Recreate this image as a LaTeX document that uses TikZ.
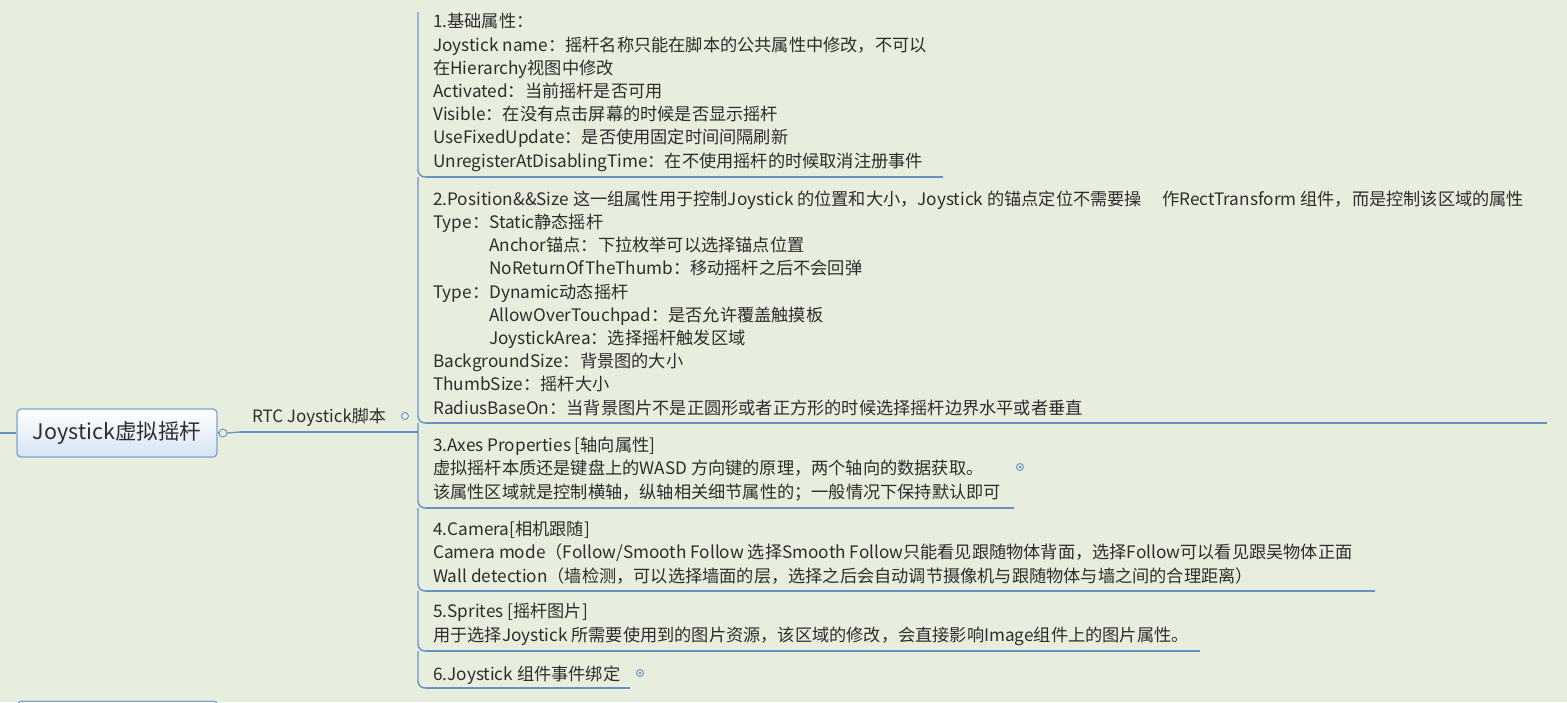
\documentclass[tikz,border=0pt]{standalone}
\usepackage{fontspec}
\setmainfont{Noto Sans CJK SC}
\usepackage{xcolor}
\usepackage{tikz}
\usetikzlibrary{arrows.meta,positioning,calc}
\definecolor{mapbg}{RGB}{232,238,221}
\definecolor{branch}{RGB}{102,146,200}
\definecolor{boxedge}{RGB}{126,163,211}
\definecolor{boxfill}{RGB}{214,228,246}
\definecolor{ink}{RGB}{45,45,45}

\begin{document}
\begin{tikzpicture}[x=1pt, y=-1pt,
  root/.style={draw=boxedge, line width=1.3pt, rounded corners=4pt,
    top color=white, bottom color=boxfill, minimum width=200pt,
    minimum height=48pt, inner sep=0pt, text=ink,
    font=\fontsize{21.5}{26}\selectfont},
  topic/.style={anchor=base west, inner sep=0pt, align=left, text=ink,
    font=\fontsize{17.2}{23.2}\selectfont},
  sub/.style={inner sep=0pt, text=ink, font=\fontsize{17}{20}\selectfont},
  trunk/.style={draw=branch, line width=1.4pt, rounded corners=7pt},
  uline/.style={draw=branch, line width=2.4pt},
  knob/.style={circle, draw=branch, fill=mapbg, line width=0.9pt,
    minimum size=8pt, inner sep=0pt}
]
\fill[mapbg] (0,0) rectangle (1567,702);
\clip (0,0) rectangle (1567,702);

% root and script node
\node[root] (root) at (117,433) {Joystick虚拟摇杆};
\node[knob] (rknob) at (223,433) {};
\node[sub, anchor=base] (script) at (319,422) {RTC Joystick脚本};
\node[knob, minimum size=7pt] (sknob) at (405,416) {};
\node[root, anchor=north west] (next) at (17,700.5) {};
\coordinate (far) at (0,433);
\coordinate (sl) at (240,432);
\coordinate (sr) at (398,432);
\coordinate (join) at (418,432);
\draw[trunk] (far) -- (root.west);
\draw[trunk] (root.east) -- (rknob.west);
\draw[trunk] (rknob.east) -- (sl);
\draw[uline] (sl) -- (sr);
\draw[trunk] (sr) -- (join);

% trunk and underlines
\coordinate (top) at (418,12);
\foreach \n/\y/\xe in {1/177/943,2/423/1547,3/508/1014,4/591/1375,5/651/1200,6/688/630}{
  \coordinate (c\n) at (418,\y);
  \coordinate (e\n) at (\xe,\y);
}
\foreach \p/\n in {top/1,c1/2,c2/3,c3/4,c4/5,c5/6}
  \draw[trunk] (\p) -- (c\n) -- ([xshift=14pt]c\n);
\foreach \n in {1,...,6}
  \draw[uline] ([xshift=8pt]c\n) -- (e\n);

% topics (base = last line)
\node[topic] (t1) at (433,167) {1.基础属性：\\
  Joystick name：摇杆名称只能在脚本的公共属性中修改，不可以\\
  在Hierarchy视图中修改\\
  Activated：当前摇杆是否可用\\
  Visible：在没有点击屏幕的时候是否显示摇杆\\
  UseFixedUpdate：是否使用固定时间间隔刷新\\
  UnregisterAtDisablingTime：在不使用摇杆的时候取消注册事件};
\node[topic] (t2) at (433,414) {2.Position\&\&Size 这一组属性用于控制Joystick 的位置和大小，Joystick 的锚点定位不需要操\hspace{20pt}作RectTransform 组件，而是控制该区域的属性\\
  Type：Static静态摇杆\\
  \hspace*{56pt}Anchor锚点：下拉枚举可以选择锚点位置\\
  \hspace*{56pt}NoReturnOfTheThumb：移动摇杆之后不会回弹\\
  Type：Dynamic动态摇杆\\
  \hspace*{56pt}AllowOverTouchpad：是否允许覆盖触摸板\\
  \hspace*{56pt}JoystickArea：选择摇杆触发区域\\
  BackgroundSize：背景图的大小\\
  ThumbSize：摇杆大小\\
  RadiusBaseOn：当背景图片不是正圆形或者正方形的时候选择摇杆边界水平或者垂直};
\node[topic] (t3) at (433,498) {3.Axes Properties [轴向属性]\\
  虚拟摇杆本质还是键盘上的WASD 方向键的原理，两个轴向的数据获取。\\
  该属性区域就是控制横轴，纵轴相关细节属性的；一般情况下保持默认即可};
\node[topic] (t4) at (433,582) {4.Camera[相机跟随]\\
  Camera mode（Follow/Smooth Follow 选择Smooth Follow只能看见跟随物体背面，选择Follow可以看见跟吴物体正面\\
  Wall detection（墙检测，可以选择墙面的层，选择之后会自动调节摄像机与跟随物体与墙之间的合理距离）};
\node[topic] (t5) at (433,641) {5.Sprites [摇杆图片]\\
  用于选择Joystick 所需要使用到的图片资源，该区域的修改，会直接影响Image组件上的图片属性。};
\node[topic] (t6) at (433,680) {6.Joystick 组件事件绑定};

% collapsed markers
\node[knob, minimum size=7pt] (k3) at (1020,467) {};
\node[knob, minimum size=7pt] (k6) at (640,673) {};
\fill[branch] (k3) circle (1.5pt);
\fill[branch] (k6) circle (1.5pt);
\end{tikzpicture}
\end{document}
